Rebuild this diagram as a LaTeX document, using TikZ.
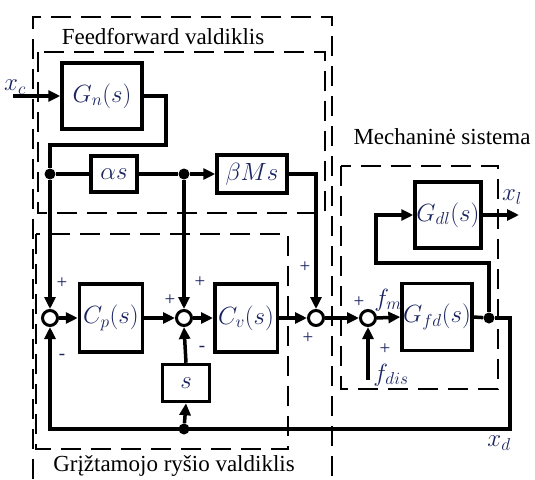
\documentclass[tikz,border=0pt]{standalone}
\usepackage{fontspec}
\setmainfont{Liberation Serif}
\usetikzlibrary{arrows.meta}
\definecolor{mathblue}{RGB}{25,35,95}
\tikzset{
  blk/.style={draw, line width=3.5pt, text=mathblue, font=\fontsize{23}{25}\selectfont},
  sumj/.style={draw, circle, line width=3pt, minimum size=15pt, inner sep=0pt, fill=white},
  wire/.style={line width=3.5pt},
  sig/.style={line width=3.5pt, -{Triangle[length=12pt,width=11pt]}},
  jdot/.style={circle, fill, inner sep=0pt, minimum size=11pt},
  grp/.style={line width=1.7pt, dash pattern=on 20pt off 10pt},
  sgn/.style={text=mathblue, font=\fontsize{19}{19}\selectfont, inner sep=0pt},
  lbl/.style={text=mathblue, font=\fontsize{23}{25}\selectfont, inner sep=0pt},
  ttl/.style={font=\fontsize{23}{25}\selectfont, inner sep=0pt}
}
\begin{document}
\begin{tikzpicture}[x=1pt, y=-1pt]
    \useasboundingbox[fill=white] (0,0) rectangle (535,479);

    % dashed groups
    \draw[grp] (33,479) -- (33,17) -- (332,17) -- (332,479);
    \draw[grp] (38,52) rectangle (325,213);
    \draw[grp] (36,234) rectangle (288,449);
    \draw[grp] (341,166) rectangle (498,389);
    \node[ttl] (fftitle) at (163,37) {Feedforward valdiklis};
    \node[ttl] (fbtitle) at (174,466) {Grįžtamojo ryšio valdiklis};
    \node[ttl] (mstitle) at (442,137) {Mechaninė sistema};

    % blocks
    \node[blk, minimum width=80pt, minimum height=66pt] (Gn) at (102,96) {$G_n(s)$};
    \node[blk, minimum width=46pt, minimum height=36pt] (as) at (114,174) {$\alpha s$};
    \node[blk, minimum width=70pt, minimum height=38pt] (bM) at (252,174) {$\beta M s$};
    \node[blk, minimum width=63pt, minimum height=68pt] (Cp) at (111,318) {$C_p(s)$};
    \node[blk, minimum width=62pt, minimum height=68pt] (Cv) at (246,318) {$C_v(s)$};
    \node[blk, minimum width=47pt, minimum height=37pt] (sd) at (186,383) {$s$};
    \node[blk, minimum width=66pt, minimum height=66pt, inner sep=1pt] (Gdl) at (448,215) {$G_{dl}(s)$};
    \node[blk, minimum width=68pt, minimum height=67pt, inner sep=1pt] (Gfd) at (437,317) {$G_{fd}(s)$};

    % summing junctions
    \node[sumj] (S1) at (50,318) {};
    \node[sumj] (S2) at (184,318) {};
    \node[sumj] (S3) at (316,318) {};
    \node[sumj] (S4) at (368,318) {};

    % branch points
    \node[jdot] (d1) at (50,174) {};
    \node[jdot] (d2) at (184,174) {};
    \node[jdot] (d3) at (489,318) {};
    \node[jdot] (d4) at (184,429) {};
    \coordinate (xcin) at (13,96);
    \coordinate (gnr) at (166,145);
    \coordinate (fbc) at (510,429);
    \coordinate (lp) at (376,263);
    \coordinate (xlout) at (519,215);
    \coordinate (fdin) at (368,380);

    % feedforward path
    \draw[sig] (xcin) -- (Gn.west);
    \draw[wire] (Gn.east) -| (gnr) -| (d1);
    \draw[sig] (d1) -- (S1.north);
    \draw[wire] (d1) -- (as.west);
    \draw[wire] (as.east) -- (d2);
    \draw[sig] (d2) -- (bM.west);
    \draw[sig] (d2) -- (S2.north);
    \draw[sig] (bM.east) -| (S3.north);

    % forward path
    \draw[sig] (S1.east) -- (Cp.west);
    \draw[sig] (Cp.east) -- (S2.west);
    \draw[sig] (S2.east) -- (Cv.west);
    \draw[sig] (Cv.east) -- (S3.west);
    \draw[sig] (S3.east) -- (S4.west);
    \draw[sig] (S4.east) -- (Gfd.west);
    \draw[sig] (fdin) -- (S4.south);
    \draw[wire] (Gfd.east) -- (d3);

    % feedback
    \draw[sig] (d3) -| (fbc) -| (S1.south);
    \draw[sig] (d4) -- (sd.south);
    \draw[sig] (sd.north) -- (S2.south);
    \draw[sig] (d3) |- (lp) |- (Gdl.west);
    \draw[sig] (Gdl.east) -- (xlout);

    % signals
    \node[lbl] (xc) at (15,87) {$x_c$};
    \node[lbl] (xl) at (512,197) {$x_l$};
    \node[lbl] (xd) at (499,443) {$x_d$};
    \node[lbl] (fm) at (388,300) {$f_m$};
    \node[lbl] (fdis) at (391,375) {$f_{dis}$};

    % signs
    \node[sgn] (p1) at (62,283) {+};
    \node[sgn] (m1) at (62,357) {-};
    \node[sgn] (p2a) at (170,300) {+};
    \node[sgn] (p2b) at (200,282) {+};
    \node[sgn] (m2) at (202,349) {-};
    \node[sgn] (p3a) at (305,267) {+};
    \node[sgn] (p3b) at (308,338) {+};
    \node[sgn] (p4a) at (359,302) {+};
    \node[sgn] (p4b) at (385,349) {+};
\end{tikzpicture}
\end{document}
